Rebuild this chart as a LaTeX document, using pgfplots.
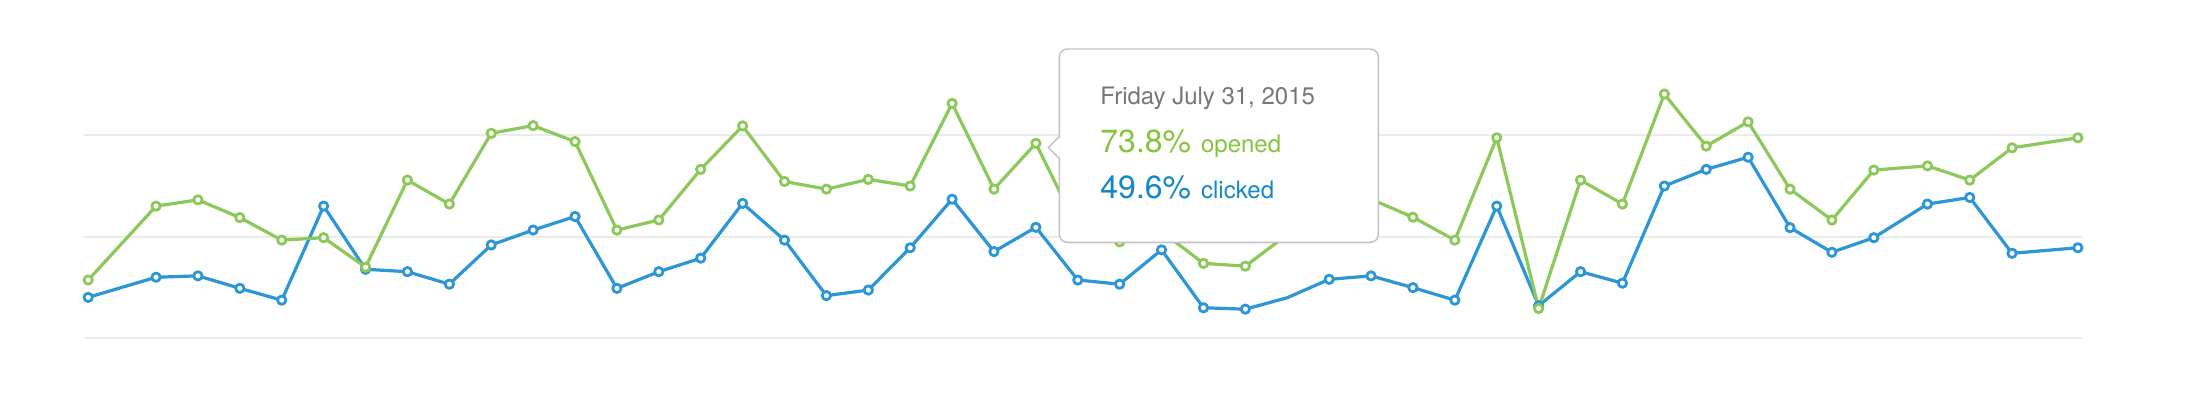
\documentclass[border=0pt]{standalone}
\usepackage{pgfplots}
\pgfplotsset{compat=1.18}
\usepackage{pgfplotstable}
\usepackage{fontspec}
\setmainfont{TeX Gyre Heros}
\usetikzlibrary{shadows}

\definecolor{openedline}{HTML}{8CC85A}
\definecolor{clickedline}{HTML}{2D96D6}
\definecolor{openedtext}{HTML}{86C440}
\definecolor{clickedtext}{HTML}{1487CB}
\definecolor{gridgray}{HTML}{EBEBEB}
\definecolor{tipborder}{HTML}{C2C2C2}
\definecolor{tipdate}{HTML}{777777}

% day, opened %, clicked %
\pgfplotstableread{
day    opened clicked
-0.62  34.4   29.4
1      55.7   35.2
2      57.5   35.6
3      52.4   32.0
4      45.9   28.6
5      46.6   55.7
6      38.1   37.5
7      63.2   36.8
8      56.3   33.2
9      76.7   44.5
10     78.9   48.8
11     74.3   52.7
12     48.8   32.0
13     51.7   36.8
14     66.3   40.7
15     78.8   56.5
16     62.8   45.9
17     60.6   29.9
18     63.4   31.5
19     61.5   43.7
20     85.3   57.7
21     60.6   42.6
22     73.8   49.6
23     49.2   34.4
24     45.4   33.2
25     48.4   43.1
26     39.2   26.4
27     38.4   26.0
28     47.5   29.3
29     54.2   34.6
30     57.7   35.6
31     52.5   32.2
32     45.9   28.6
33     75.4   55.7
34     26.2   27.0
35     63.2   36.8
36     56.3   33.5
37     88.0   61.5
38     73.0   66.3
39     80.0   69.8
40     60.6   49.5
41     51.7   42.4
42     66.1   46.6
43.28  67.3   56.3
44.29  63.2   58.2
45.30  72.5   42.1
46.87  75.4   43.7
}\rates

\begin{document}
\begin{tikzpicture}
\begin{axis}[
    at={(0pt,0pt)}, anchor=south west,
    scale only axis,
    width=999pt, height=101.65pt,
    xmin=-0.72, xmax=46.97,
    ymin=17.6, ymax=76.2,
    xtick=\empty,
    ytick={17.6,46.9,76.2},
    yticklabels={},
    major tick length=0pt,
    ymajorgrids,
    grid style={line width=1pt, gridgray},
    axis line style={draw=none},
    clip=false,
    every axis plot/.append style={line width=1.6pt, line join=round},
    mark size=2.1pt
]
\addplot[clickedline, mark=*,
    mark indices={1,2,3,4,5,6,7,8,9,10,11,12,13,14,15,16,17,18,19,20,21,22,23,24,25,26,27,28,30,31,32,33,34,35,36,37,38,39,40,41,42,43,44,45,46,47},
    mark options={fill=white, draw=clickedline, line width=1.4pt}]
    table[x=day, y=clicked] {\rates};
\addplot[openedline, mark=*,
    mark options={fill=white, draw=openedline, line width=1.4pt}]
    table[x=day, y=opened] {\rates};
\end{axis}

% tooltip
\draw[fill=white, draw=tipborder, line width=0.7pt, rounded corners=4pt,
    drop shadow={opacity=0.12, shadow xshift=0pt, shadow yshift=-0.6pt}]
    (487.65pt,48pt) rectangle (647.15pt,144.65pt);
\fill[white] (488.3pt,90pt) -- (482.15pt,95.4pt) -- (488.3pt,100.8pt) -- cycle;
\draw[tipborder, line width=0.7pt] (487.65pt,90pt) -- (482.15pt,95.4pt) -- (487.65pt,100.8pt);
\node[anchor=base west, inner sep=0pt, text=tipdate, font=\fontsize{12}{14}\selectfont]
    at (508pt,116.65pt) {Friday July 31, 2015};
\node[anchor=base west, inner sep=0pt, text=openedtext, font=\fontsize{16}{18}\selectfont]
    at (508pt,93.15pt) {73.8\%};
\node[anchor=base west, inner sep=0pt, text=openedtext, font=\fontsize{12}{14}\selectfont]
    at (558.35pt,93.15pt) {opened};
\node[anchor=base west, inner sep=0pt, text=clickedtext, font=\fontsize{16}{18}\selectfont]
    at (508pt,70pt) {49.6\%};
\node[anchor=base west, inner sep=0pt, text=clickedtext, font=\fontsize{12}{14}\selectfont]
    at (558.35pt,70pt) {clicked};

\pgfresetboundingbox
\path[use as bounding box] (-42pt,-31.85pt) rectangle (1052pt,169.15pt);
\end{tikzpicture}
\end{document}
